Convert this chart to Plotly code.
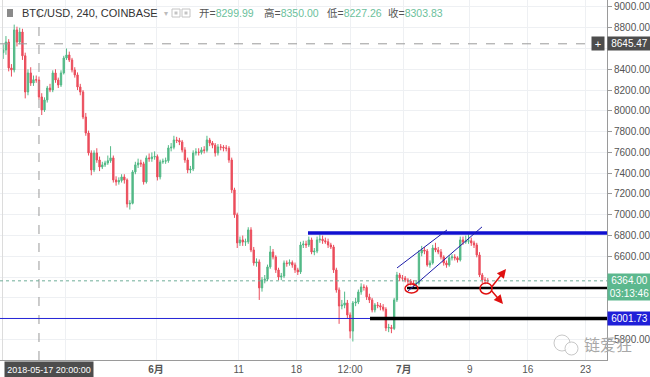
import plotly.graph_objects as go
from datetime import datetime, timedelta

# ---------------- data ----------------
first_open = 8560
close = [
    8586, 8663, 8413, 8394, 8779, 8663, 8759, 8530, 8182, 8365,
    8268, 8300, 8297, 8134, 8009, 8105, 8220, 8201, 8365, 8297,
    8249, 8365, 8509, 8538, 8490, 8394, 8346, 8230, 8182, 7941,
    7787, 7595, 7431, 7595, 7527, 7460, 7480, 7499, 7520, 7547,
    7335, 7316, 7330, 7364, 7335, 7104, 7110, 7412, 7480, 7499,
    7490, 7316, 7547, 7540, 7556, 7560, 7364, 7508, 7515, 7520, 7643,
    7650, 7720, 7715, 7701, 7624, 7527, 7431, 7440, 7595, 7604,
    7600, 7624, 7620, 7720, 7691, 7670, 7595, 7653, 7650, 7643,
    7640, 7527, 7239, 7000, 6729, 6758, 6738, 6740, 6854, 6661,
    6536, 6546, 6296, 6372, 6380, 6498, 6642, 6594, 6469, 6401,
    6410, 6536, 6530, 6540, 6517, 6469, 6450, 6709, 6719, 6710,
    6758, 6642, 6650, 6758, 6765, 6750, 6740, 6709, 6690, 6469, 6276,
    6122, 6130, 6151, 6035, 5880, 6151, 6160, 6257, 6305, 6300,
    6209, 6180, 6084, 6132, 6125, 6112, 6090, 5910, 5915, 5905,
    6180, 6421, 6392, 6390, 6372, 6360, 6344, 6334, 6340, 6632,
    6661, 6650, 6517, 6536, 6680, 6661, 6642, 6594, 6536, 6517,
    6585, 6594, 6585, 6565, 6758, 6738, 6745, 6750, 6729, 6709,
    6613, 6421, 6372, 6368, 6364]
high = [
    8640, 8720, 8690, 8450, 8830, 8810, 8800, 8790, 8560, 8400,
    8420, 8340, 8340, 8330, 8170, 8130, 8240, 8260, 8390, 8400,
    8320, 8390, 8530, 8600, 8570, 8510, 8420, 8370, 8260, 8200,
    7980, 7810, 7620, 7620, 7640, 7560, 7510, 7520, 7570, 7660,
    7570, 7370, 7360, 7390, 7390, 7350, 7140, 7430, 7510, 7540,
    7530, 7510, 7570, 7590, 7600, 7610, 7580, 7530, 7540, 7550, 7670,
    7690, 7760, 7750, 7740, 7720, 7650, 7550, 7470, 7620, 7640,
    7640, 7650, 7660, 7760, 7740, 7710, 7690, 7680, 7680, 7670,
    7670, 7660, 7550, 7260, 7020, 6790, 6800, 6770, 6880, 6880,
    6690, 6580, 6570, 6400, 6420, 6520, 6700, 6670, 6610, 6490,
    6440, 6560, 6560, 6570, 6560, 6540, 6490, 6740, 6750, 6750,
    6790, 6780, 6680, 6790, 6810, 6800, 6780, 6770, 6730, 6710, 6490,
    6300, 6180, 6260, 6180, 6060, 6170, 6200, 6280, 6340, 6330,
    6320, 6240, 6200, 6150, 6160, 6150, 6140, 6110, 5950, 5940,
    6200, 6450, 6440, 6420, 6410, 6390, 6380, 6370, 6360, 6660,
    6700, 6690, 6670, 6560, 6710, 6730, 6690, 6670, 6610, 6560,
    6610, 6620, 6620, 6600, 6790, 6790, 6800, 6810, 6780, 6750,
    6730, 6640, 6440, 6400, 6390]
low = [
    8500, 8540, 8380, 8330, 8370, 8620, 8640, 8490, 8120, 8150,
    8240, 8240, 8270, 8110, 7960, 7990, 8080, 8180, 8180, 8270,
    8220, 8230, 8350, 8490, 8470, 8370, 8320, 8200, 8150, 7920,
    7760, 7570, 7380, 7410, 7500, 7420, 7440, 7460, 7480, 7500,
    7310, 7280, 7290, 7310, 7300, 7070, 7050, 7100, 7390, 7450,
    7460, 7290, 7300, 7510, 7510, 7530, 7330, 7340, 7490, 7490, 7500,
    7610, 7630, 7690, 7670, 7600, 7500, 7400, 7400, 7420, 7570,
    7570, 7580, 7590, 7600, 7660, 7640, 7560, 7570, 7620, 7610,
    7610, 7500, 7210, 6970, 6680, 6700, 6700, 6700, 6720, 6640,
    6510, 6500, 6180, 6260, 6340, 6360, 6480, 6570, 6440, 6370,
    6370, 6390, 6500, 6510, 6490, 6440, 6420, 6430, 6680, 6680,
    6690, 6620, 6610, 6630, 6730, 6720, 6720, 6680, 6670, 6440, 6250,
    5950, 6090, 6100, 6000, 5810, 5780, 6120, 6140, 6230, 6270,
    6180, 6150, 6060, 6060, 6100, 6080, 6070, 5880, 5870, 5860,
    5890, 6160, 6360, 6360, 6350, 6330, 6320, 6310, 6310, 6320,
    6600, 6620, 6500, 6490, 6520, 6640, 6620, 6570, 6510, 6490,
    6500, 6560, 6560, 6540, 6550, 6710, 6720, 6720, 6700, 6680,
    6590, 6400, 6340, 6330, 6340]
opens = [first_open] + close[:-1]
start_time = datetime(2018, 5, 13, 12)
bar_hours = 8
times = [start_time + timedelta(hours=bar_hours * j) for j in range(len(close))]

# x ticks ("21" sits under the crosshair time box in the reference, so it shows no text)
tick_dates = ["2018-05-21", "2018-06-01", "2018-06-11", "2018-06-18", "2018-06-24 12:00",
              "2018-07-01", "2018-07-09", "2018-07-16", "2018-07-23"]
tick_text = ["", "<b>6月</b>", "11", "18", "12:00", "<b>7月</b>", "9", "16", "23"]

# y ticks (levels covered by the price boxes show no text)
price_ticks = [5800, 6000, 6200, 6400, 6600, 6800, 7000, 7200, 7400, 7600, 7800, 8000,
               8200, 8400, 8600, 8800, 9000]
covered_ticks = [6000, 6200, 6400, 8600]
price_tick_text = ["" if v in covered_ticks else f"{v:.2f}" for v in price_ticks]

ohlc_labels = ["开=", "高=", "低=", "收="]
ohlc_values = ["8299.99", "8350.00", "8227.26", "8303.83"]

crosshair_time = "2018-05-17 20:00"
crosshair_price = 8645.47
last_price = 6364.00
support_price = 6001.73
resist_price = 6825
neck_price = 6296
resist_start = "2018-06-19 09:36"
support_start = "2018-06-26 21:50"
neck_start = "2018-07-01 09:20"
channel_upper = [("2018-06-30 04:17", 6488), ("2018-07-06 05:30", 6854)]
channel_lower = [("2018-07-01 09:20", 6257), ("2018-07-10 11:15", 6883)]
ellipses = [("2018-07-01 03:30", "2018-07-02 17:15", 6247, 6334),
            ("2018-07-10 05:30", "2018-07-11 16:20", 6237, 6344)]
arrow_tail = ("2018-07-11 10:30", 6286)
arrow_tips = [("2018-07-13 09:00", 6478), ("2018-07-13 00:15", 6141)]

X_RANGE = ["2018-05-13 02:44", "2018-07-25 14:24"]
Y_RANGE = [5602, 9067]
GREEN = "#53b987"
RED = "#eb4d5c"
PLOT_W, PLOT_H = 607, 360


def px(x):
    return x / PLOT_W


def py(y):
    return (PLOT_H - y) / PLOT_H


fig = go.Figure(go.Candlestick(
    x=times, open=opens, high=high, low=low, close=close,
    increasing=dict(line=dict(color=GREEN, width=1), fillcolor=GREEN),
    decreasing=dict(line=dict(color=RED, width=1), fillcolor=RED),
    whiskerwidth=0, hoverinfo="skip"))

shapes = []
shapes.append(dict(type="line", xref="paper", yref="paper", x0=px(2.5), x1=px(2.5), y0=0, y1=1,
                   line=dict(color="#dcdcdc", width=1)))
shapes.append(dict(type="line", xref="x", yref="paper", x0=crosshair_time, x1=crosshair_time, y0=0, y1=1,
                   line=dict(color="#9a9a9a", width=1, dash="dash")))
shapes.append(dict(type="line", xref="paper", yref="y", x0=0, x1=1, y0=crosshair_price, y1=crosshair_price,
                   line=dict(color="#9a9a9a", width=1, dash="dash")))
shapes.append(dict(type="line", xref="paper", yref="y", x0=0, x1=1, y0=last_price, y1=last_price,
                   line=dict(color="#6fae98", width=1, dash="dot")))
shapes.append(dict(type="line", xref="paper", yref="y", x0=0, x1=1, y0=support_price, y1=support_price,
                   line=dict(color="#2323d6", width=1)))
shapes.append(dict(type="line", xref="x", yref="y", x0=resist_start, x1=X_RANGE[1], y0=resist_price, y1=resist_price,
                   line=dict(color="#1010d0", width=3.5)))
shapes.append(dict(type="line", xref="x", yref="y", x0=support_start, x1=X_RANGE[1], y0=support_price, y1=support_price,
                   line=dict(color="#000000", width=3.5)))
shapes.append(dict(type="line", xref="x", yref="y", x0=neck_start, x1=X_RANGE[1], y0=neck_price, y1=neck_price,
                   line=dict(color="#000000", width=2.5)))
for (a, b) in (channel_upper, channel_lower):
    shapes.append(dict(type="line", xref="x", yref="y", x0=a[0], y0=a[1], x1=b[0], y1=b[1],
                       line=dict(color="#1c1ca8", width=1)))
for (xa, xb, ya, yb) in ellipses:
    shapes.append(dict(type="circle", xref="x", yref="y", x0=xa, x1=xb, y0=ya, y1=yb,
                       line=dict(color="#e01010", width=1.5)))
shapes.append(dict(type="rect", xref="paper", yref="paper", x0=px(7), x1=px(13), y0=py(17), y1=py(9),
                   fillcolor="#8a8a8a", line=dict(width=0)))
for x0 in (172, 182):
    shapes.append(dict(type="rect", xref="paper", yref="paper", x0=px(x0), x1=px(x0 + 8), y0=py(17), y1=py(9),
                       fillcolor="#ffffff", line=dict(color="#c4c4c4", width=1)))
    shapes.append(dict(type="rect", xref="paper", yref="paper", x0=px(x0 + 2.5), x1=px(x0 + 5.5), y0=py(14.5), y1=py(11.5),
                       fillcolor="#c4c4c4", line=dict(width=0)))
shapes.append(dict(type="circle", xref="paper", yref="paper", x0=px(554), x1=px(570), y0=py(351), y1=py(335),
                   line=dict(color="#c8c8c8", width=1)))
shapes.append(dict(type="circle", xref="paper", yref="paper", x0=px(565), x1=px(578), y0=py(355), y1=py(342),
                   line=dict(color="#c8c8c8", width=1), fillcolor="rgba(255,255,255,0.9)"))

annotations = []
for tip in arrow_tips:
    annotations.append(dict(x=tip[0], y=tip[1], xref="x", yref="y", ax=arrow_tail[0], ay=arrow_tail[1],
                            axref="x", ayref="y", showarrow=True, arrowhead=2, arrowsize=1.2,
                            arrowwidth=1.5, arrowcolor="#e01010", text=""))
annotations.append(dict(xref="paper", yref="paper", x=px(20), y=py(13), xanchor="left", yanchor="middle",
                        text="BTC/USD, 240, COINBASE", showarrow=False,
                        font=dict(family="Liberation Sans, Arial", size=11, color="#333333")))
annotations.append(dict(xref="paper", yref="paper", x=px(162), y=py(13), xanchor="left", yanchor="middle",
                        text="▾", showarrow=False, font=dict(size=8, color="#bbbbbb")))
for lab, val, x0 in zip(ohlc_labels, ohlc_values, (197, 262, 325, 386)):
    annotations.append(dict(xref="paper", yref="paper", x=px(x0), y=py(13), xanchor="left", yanchor="middle",
                            text=f'<span style="color:#555555">{lab}</span><span style="color:#6cbf9c">{val}</span>',
                            showarrow=False,
                            font=dict(family="Liberation Sans, Noto Sans CJK SC", size=10.5)))


def price_box(price, text, bg, yshift=0):
    return dict(xref="paper", yref="y", x=1, y=price, yshift=yshift, xanchor="left", yanchor="middle", text=text,
                showarrow=False, bgcolor=bg, width=41, height=11, borderpad=1,
                font=dict(family="Liberation Sans, Arial", size=10, color="#ffffff"))


annotations.append(price_box(crosshair_price, f"{crosshair_price:.2f}", "#4d4d4d"))
annotations.append(price_box(last_price, f"{last_price:.2f}", "#5cb88e"))
annotations.append(price_box(last_price, "03:13:46", "#5cb88e", yshift=-13))
annotations.append(price_box(support_price, f"{support_price:.2f}", "#1f1fd8"))
annotations.append(dict(xref="paper", yref="y", x=px(598), y=crosshair_price, xanchor="center", yanchor="middle",
                        text="+", showarrow=False, bgcolor="#4d4d4d", width=10, height=11, borderpad=1,
                        font=dict(family="Liberation Sans, Arial", size=11, color="#ffffff")))
annotations.append(dict(xref="paper", yref="paper", x=px(4), y=0, xanchor="left", yanchor="top", yshift=-1,
                        text="2018-05-17 20:00:00", showarrow=False, bgcolor="#4d4d4d", width=86, height=14,
                        borderpad=1, font=dict(family="Liberation Sans, Arial", size=9, color="#ffffff")))
annotations.append(dict(xref="paper", yref="paper", x=px(582), y=py(344), xanchor="left", yanchor="middle",
                        text="链爱狂", showarrow=False,
                        font=dict(family="Noto Sans CJK SC", size=16, color="#a8a8a8")))

fig.update_layout(
    width=650, height=377, margin=dict(l=0, r=43, t=0, b=17, pad=0, autoexpand=False),
    paper_bgcolor="#ffffff", plot_bgcolor="#ffffff", showlegend=False,
    shapes=shapes, annotations=annotations,
    xaxis=dict(type="date", range=X_RANGE, tickvals=tick_dates, ticktext=tick_text, automargin=False,
               showgrid=True, gridcolor="#eef0f3", gridwidth=1, showline=True, linecolor="#9a9a9a",
               ticks="", tickfont=dict(family="Liberation Sans, Noto Sans CJK SC", size=10, color="#555555"),
               rangeslider=dict(visible=False), fixedrange=True, zeroline=False),
    yaxis=dict(side="right", range=Y_RANGE, tickvals=price_ticks, ticktext=price_tick_text, automargin=False,
               showgrid=True, gridcolor="#eef0f3", gridwidth=1, showline=True, linecolor="#9a9a9a",
               ticks="outside", ticklen=4, tickcolor="#9a9a9a",
               tickfont=dict(family="Liberation Sans, Arial", size=10, color="#555555"),
               fixedrange=True, zeroline=False),
)

fig.write_html("out.html", config={"displayModeBar": False},
               post_script="document.body.style.margin='0';document.body.style.overflow='hidden';")
